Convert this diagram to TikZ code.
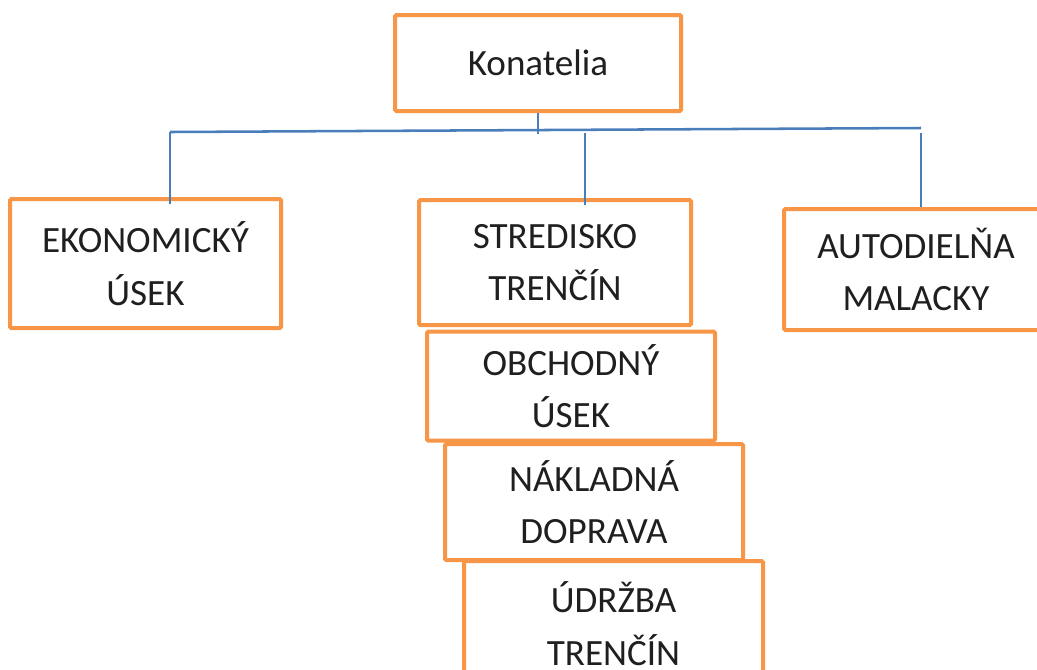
\documentclass[tikz,border=0pt]{standalone}
\usepackage{fontspec}
\setmainfont{Carlito}
\usetikzlibrary{positioning}
\definecolor{boxorange}{HTML}{F79646}
\definecolor{lineblue}{HTML}{4A7EBB}
\tikzset{
  unit/.style={draw=boxorange,line width=3pt,fill=white,rounded corners=1pt,
    align=center,inner sep=0pt,text=black!88,
    font=\fontsize{27.8pt}{39.5pt}\selectfont},
  link/.style={draw=lineblue,line width=1.9pt}
}
\begin{document}
\begin{tikzpicture}[x=0.75pt,y=-0.75pt]
                \path[use as bounding box,clip] (0,0) rectangle (1037,669);
                % top box
                \node[unit,minimum width=214.5pt,minimum height=72pt] (kon) at (538,63) {Konatelia};
                % second level
                \node[unit,minimum width=203.25pt,minimum height=96.75pt] (eko) at (145.5,263.5) {EKONOMICKÝ\\ÚSEK};
                \node[unit,minimum width=204pt,minimum height=93.75pt] (stred) at (555,262.5) {STREDISKO\\TRENČÍN};
                \node[unit,minimum width=198pt,minimum height=90.75pt] (auto) at (916,269.5) {AUTODIELŇA\\MALACKY};
                % units below the centre box
                \node[unit,minimum width=216pt,minimum height=81.75pt] (obch) at (571,386) {OBCHODNÝ\\ÚSEK};
                \node[unit,minimum width=223.5pt,minimum height=87pt] (nakl) at (594,502) {NÁKLADNÁ\\DOPRAVA};
                \node[unit,minimum width=224.25pt,minimum height=93.75pt] (udrz) at (613.5,623.5) {ÚDRŽBA\\TRENČÍN};
                % bus line
                \coordinate (b1) at (170,132);
                \coordinate (b2) at (585,130);
                \coordinate (b3) at (921,128);
                \draw[link] (b1) -- (b3);
                \draw[link] (kon.south) -- ++(0,21);
                \draw[link] (b1) -- ([yshift=-5]b1 |- eko.north);
                \draw[link] ([yshift=-2]b2) -- ([yshift=-5]b2 |- stred.north);
                \draw[link] ([yshift=-4]b3) -- (b3 |- auto.north);
            \end{tikzpicture}
\end{document}
